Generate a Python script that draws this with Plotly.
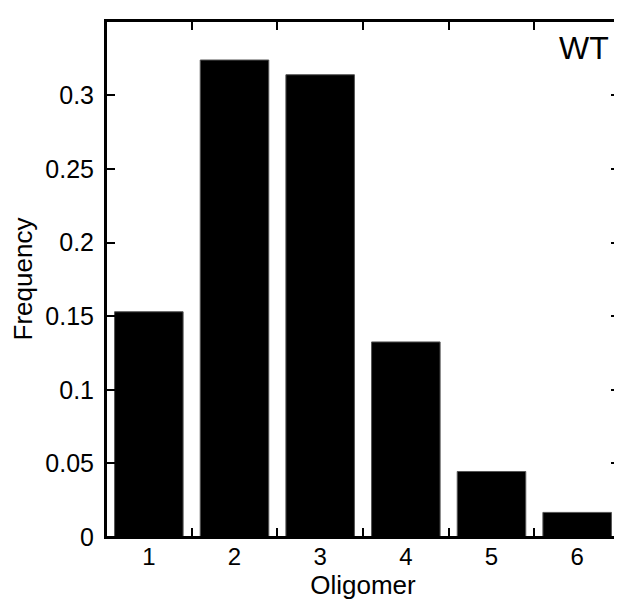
import plotly.graph_objects as go

categories = ["1", "2", "3", "4", "5", "6"]
frequency = [0.153, 0.324, 0.314, 0.1325, 0.0445, 0.0167]
y_tickvals = [0, 0.05, 0.1, 0.15, 0.2, 0.25, 0.3, 0.35]
y_ticktext = ["0", "0.05", "0.1", "0.15", "0.2", "0.25", "0.3", "0.35"]

FONT = "Liberation Sans, Arial, sans-serif"

fig = go.Figure()
fig.add_trace(go.Bar(
    x=categories, y=frequency, width=0.8,
    marker=dict(color="black", line=dict(color="#555555", width=1)),
    showlegend=False,
))

fig.update_layout(
    width=614, height=593,
    margin=dict(l=98, r=2, t=13, b=64),
    paper_bgcolor="white", plot_bgcolor="white",
    font=dict(family=FONT, color="black", size=22),
    bargap=0.2,
    xaxis=dict(
        type="category", range=[-0.5, 5.5], automargin=False,
        tickson="boundaries", ticks="inside", ticklen=9, tickwidth=2, tickcolor="black",
        showline=True, linecolor="black", linewidth=2, mirror="ticks",
        showgrid=False, zeroline=False,
        tickfont=dict(family=FONT, size=24),
        ticklabelstandoff=-3,
        title=dict(text="Oligomer", font=dict(family=FONT, size=26), standoff=0),
    ),
    yaxis=dict(
        range=[0, 0.3505], tickvals=y_tickvals, ticktext=y_ticktext, automargin=False,
        ticks="inside", ticklen=9, tickwidth=2, tickcolor="black",
        showline=True, linecolor="black", linewidth=2, mirror="ticks",
        showgrid=False, zeroline=False,
        tickfont=dict(family=FONT, size=25),
        ticklabelstandoff=5,
        title=dict(text="Frequency", font=dict(family=FONT, size=26), standoff=9),
    ),
    shapes=[dict(
        type="rect", xref="paper", yref="paper", x0=0, y0=0, x1=1, y1=1,
        line=dict(color="black", width=2), fillcolor="rgba(0,0,0,0)", layer="above",
    )],
    annotations=[dict(
        text="WT", xref="paper", yref="paper", x=0.9825, y=0.9864,
        xanchor="right", yanchor="top", showarrow=False,
        font=dict(family=FONT, size=32, color="black"),
    )],
)

fig.write_html("out.html")
